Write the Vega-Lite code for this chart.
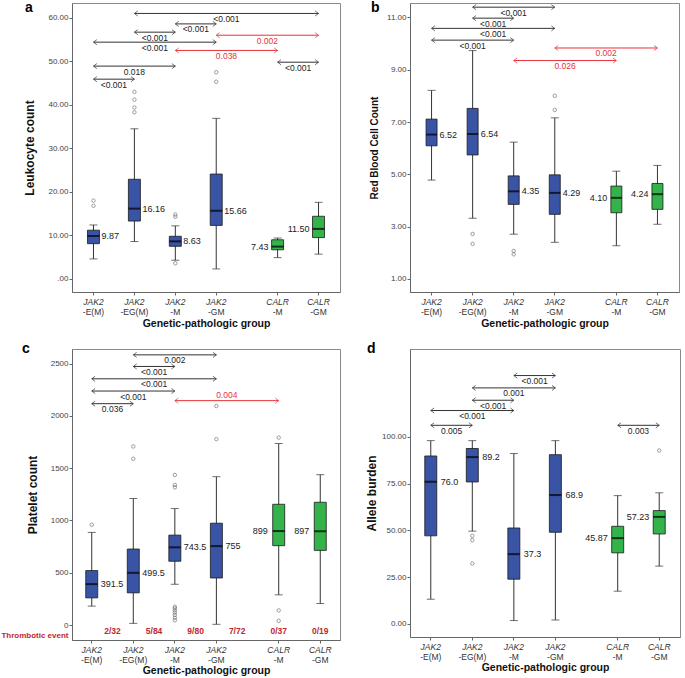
{
"$schema":"https://vega.github.io/schema/vega-lite/v6.json",
"padding":{"left":0,"top":0,"right":0,"bottom":0},
"background":"white",
"params":[{"name":"D","value":["JAK2-E(M)","s1","JAK2-EG(M)","s2","JAK2-M","s3","JAK2-GM","s4","s5","CALR-M","s6","CALR-GM"]}],
"config":{"font":"Liberation Sans","view":{"stroke":"#8a8a8a"},"axis":{"grid":false,"labelOverlap":false}},
"datasets":{
"boxA":[
{"g":"JAK2-E(M)","fam":"JAK2","lo":4.6,"q1":8.1,"med":9.87,"q3":11.2,"hi":12.4,"lab":"9.87"},
{"g":"JAK2-EG(M)","fam":"JAK2","lo":8.6,"q1":13.3,"med":16.16,"q3":22.9,"hi":34.5,"lab":"16.16"},
{"g":"JAK2-M","fam":"JAK2","lo":4.3,"q1":7.5,"med":8.63,"q3":9.8,"hi":12.2,"lab":"8.63"},
{"g":"JAK2-GM","fam":"JAK2","lo":2.3,"q1":12.3,"med":15.66,"q3":24.1,"hi":36.9,"lab":"15.66"},
{"g":"CALR-M","fam":"CALR","lo":4.9,"q1":6.7,"med":7.43,"q3":9.0,"hi":9.4,"lab":"7.43"},
{"g":"CALR-GM","fam":"CALR","lo":5.7,"q1":9.5,"med":11.5,"q3":14.4,"hi":17.6,"lab":"11.50"}],
"outA":[{"g":"JAK2-E(M)","v":18.0},{"g":"JAK2-E(M)","v":16.8},{"g":"JAK2-EG(M)","v":43.0},{"g":"JAK2-EG(M)","v":41.2},{"g":"JAK2-EG(M)","v":39.4},{"g":"JAK2-EG(M)","v":38.3},{"g":"JAK2-M","v":14.8},{"g":"JAK2-M","v":14.3},{"g":"JAK2-M","v":3.6},{"g":"JAK2-GM","v":47.5},{"g":"JAK2-GM","v":45.3}],
"arrA":[
{"from":"JAK2-EG(M)","to":"CALR-GM","y":61.0,"p":"<0.001"},
{"from":"JAK2-M","to":"JAK2-GM","y":58.6,"p":"<0.001"},
{"from":"JAK2-GM","to":"CALR-GM","y":56.0,"p":"0.002"},
{"from":"JAK2-EG(M)","to":"JAK2-M","y":56.7,"p":"<0.001"},
{"from":"JAK2-E(M)","to":"JAK2-GM","y":54.4,"p":"<0.001"},
{"from":"JAK2-M","to":"CALR-M","y":52.5,"p":"0.038"},
{"from":"JAK2-E(M)","to":"JAK2-M","y":48.9,"p":"0.018"},
{"from":"CALR-M","to":"CALR-GM","y":49.8,"p":"<0.001"},
{"from":"JAK2-E(M)","to":"JAK2-EG(M)","y":45.9,"p":"<0.001"}],
"boxB":[
{"g":"JAK2-E(M)","fam":"JAK2","lo":4.78,"q1":6.09,"med":6.52,"q3":7.11,"hi":8.21,"lab":"6.52"},
{"g":"JAK2-EG(M)","fam":"JAK2","lo":3.32,"q1":5.74,"med":6.54,"q3":7.52,"hi":9.73,"lab":"6.54"},
{"g":"JAK2-M","fam":"JAK2","lo":2.71,"q1":3.85,"med":4.35,"q3":4.94,"hi":6.23,"lab":"4.35"},
{"g":"JAK2-GM","fam":"JAK2","lo":2.4,"q1":3.47,"med":4.29,"q3":4.98,"hi":7.16,"lab":"4.29"},
{"g":"CALR-M","fam":"CALR","lo":2.27,"q1":3.53,"med":4.1,"q3":4.55,"hi":5.12,"lab":"4.10"},
{"g":"CALR-GM","fam":"CALR","lo":3.09,"q1":3.66,"med":4.24,"q3":4.65,"hi":5.34,"lab":"4.24"}],
"outB":[{"g":"JAK2-EG(M)","v":2.72},{"g":"JAK2-EG(M)","v":2.34},{"g":"JAK2-M","v":2.07},{"g":"JAK2-M","v":1.94},{"g":"JAK2-GM","v":8.0},{"g":"JAK2-GM","v":7.46}],
"arrB":[
{"from":"JAK2-EG(M)","to":"JAK2-GM","y":11.39,"p":"<0.001"},
{"from":"JAK2-EG(M)","to":"JAK2-M","y":10.97,"p":"<0.001"},
{"from":"JAK2-E(M)","to":"JAK2-GM","y":10.58,"p":"<0.001"},
{"from":"JAK2-E(M)","to":"JAK2-M","y":10.13,"p":"<0.001"},
{"from":"JAK2-GM","to":"CALR-GM","y":9.83,"p":"0.002"},
{"from":"JAK2-M","to":"CALR-M","y":9.35,"p":"0.026"}],
"boxC":[
{"g":"JAK2-E(M)","fam":"JAK2","lo":181,"q1":260,"med":391.5,"q3":521,"hi":886,"lab":"391.5","ev":"2/32"},
{"g":"JAK2-EG(M)","fam":"JAK2","lo":16,"q1":308,"med":499.5,"q3":727,"hi":1210,"lab":"499.5","ev":"5/84"},
{"g":"JAK2-M","fam":"JAK2","lo":390,"q1":610,"med":743.5,"q3":860,"hi":1114,"lab":"743.5","ev":"9/80"},
{"g":"JAK2-GM","fam":"JAK2","lo":7,"q1":450,"med":755,"q3":974,"hi":1419,"lab":"755","ev":"7/72"},
{"g":"CALR-M","fam":"CALR","lo":289,"q1":759,"med":899,"q3":1155,"hi":1736,"lab":"899","ev":"0/37"},
{"g":"CALR-GM","fam":"CALR","lo":206,"q1":714,"med":897,"q3":1174,"hi":1438,"lab":"897","ev":"0/19"}],
"outC":[{"g":"JAK2-E(M)","v":959},{"g":"JAK2-EG(M)","v":1708},{"g":"JAK2-EG(M)","v":1590},{"g":"JAK2-M","v":1435},{"g":"JAK2-M","v":1340},{"g":"JAK2-M","v":1317},{"g":"JAK2-M","v":175},{"g":"JAK2-M","v":160},{"g":"JAK2-M","v":140},{"g":"JAK2-M","v":120},{"g":"JAK2-M","v":95},{"g":"JAK2-M","v":70},{"g":"JAK2-M","v":45},{"g":"JAK2-GM","v":2095},{"g":"JAK2-GM","v":1778},{"g":"CALR-M","v":1793},{"g":"CALR-M","v":140},{"g":"CALR-M","v":41}],
"arrC":[
{"from":"JAK2-EG(M)","to":"JAK2-GM","y":2584,"p":"0.002"},
{"from":"JAK2-EG(M)","to":"JAK2-M","y":2473,"p":"<0.001"},
{"from":"JAK2-E(M)","to":"JAK2-GM","y":2355,"p":"<0.001"},
{"from":"JAK2-E(M)","to":"JAK2-M","y":2238,"p":"<0.001"},
{"from":"JAK2-M","to":"CALR-M","y":2146,"p":"0.004"},
{"from":"JAK2-E(M)","to":"JAK2-EG(M)","y":2117,"p":"0.036"}],
"boxD":[
{"g":"JAK2-E(M)","fam":"JAK2","lo":13.2,"q1":47.1,"med":76.0,"q3":89.8,"hi":98.0,"lab":"76.0"},
{"g":"JAK2-EG(M)","fam":"JAK2","lo":49.6,"q1":75.9,"med":89.2,"q3":93.8,"hi":98.0,"lab":"89.2"},
{"g":"JAK2-M","fam":"JAK2","lo":1.8,"q1":23.9,"med":37.3,"q3":51.3,"hi":91.1,"lab":"37.3"},
{"g":"JAK2-GM","fam":"JAK2","lo":2.1,"q1":49.0,"med":68.9,"q3":90.5,"hi":98.0,"lab":"68.9"},
{"g":"CALR-M","fam":"CALR","lo":17.5,"q1":38.0,"med":45.87,"q3":52.2,"hi":68.6,"lab":"45.87"},
{"g":"CALR-GM","fam":"CALR","lo":30.9,"q1":48.1,"med":57.23,"q3":60.6,"hi":70.1,"lab":"57.23"}],
"outD":[{"g":"JAK2-EG(M)","v":47.1},{"g":"JAK2-EG(M)","v":44.8},{"g":"JAK2-EG(M)","v":32.3},{"g":"CALR-GM","v":92.7}],
"arrD":[
{"from":"JAK2-M","to":"JAK2-GM","y":132.8,"p":"<0.001"},
{"from":"JAK2-EG(M)","to":"JAK2-GM","y":126.2,"p":"0.001"},
{"from":"JAK2-EG(M)","to":"JAK2-M","y":119.6,"p":"<0.001"},
{"from":"JAK2-E(M)","to":"JAK2-M","y":114.1,"p":"<0.001"},
{"from":"JAK2-E(M)","to":"JAK2-EG(M)","y":106.2,"p":"0.005"},
{"from":"CALR-M","to":"CALR-GM","y":106.2,"p":"0.003"}]
},
"columns":2,
"bounds":"flush",
"spacing":{"row":57,"column":70},
"concat":[
{"width":268,"height":289,
"title":{"text":"a","anchor":"start","frame":"group","offset":0,"dx":-47,"dy":23,"fontSize":14,"fontWeight":"bold","baseline":"alphabetic","color":"#000"},
"resolve":{"axis":{"x":"independent"}},
"layer":[
{"data":{"name":"boxA"},"mark":{"type":"rule","color":"#333"},"encoding":{
"x":{"field":"g","type":"nominal","scale":{"type":"band","domain":["JAK2-E(M)","s1","JAK2-EG(M)","s2","JAK2-M","s3","JAK2-GM","s4","s5","CALR-M","s6","CALR-GM"],"paddingInner":0,"paddingOuter":0.55},
"axis":{"orient":"bottom","values":["JAK2-E(M)","JAK2-EG(M)","JAK2-M","JAK2-GM","CALR-M","CALR-GM"],"labelExpr":"slice(datum.value,0,4)","labelAngle":0,"labelFontStyle":"italic","labelFontSize":8.5,"labelColor":"#333","tickSize":3,"tickColor":"#666","domainColor":"#666","labelPadding":2,"title":null}},
"y":{"field":"lo","type":"quantitative","scale":{"domain":[-3,63.4],"nice":false,"zero":false},
"axis":{"values":[0,10,20,30,40,50,60],"labelExpr":"datum.value==0 ? '.00' : format(datum.value,'.2f')","title":"Leukocyte count","titleFontSize":12,"titleFontWeight":"bold","titleColor":"#111","titleX":-43,"titleBaseline":"middle","labelFontSize":8,"labelColor":"#444","tickSize":3,"labelPadding":1,"domainColor":"#666","tickColor":"#666"}},
"y2":{"field":"hi"}}},
{"data":{"name":"boxA"},"mark":{"type":"tick","color":"#333","size":8,"thickness":1},"encoding":{
"x":{"field":"g","type":"nominal","axis":{"orient":"bottom","values":["JAK2-E(M)","JAK2-EG(M)","JAK2-M","JAK2-GM","CALR-M","CALR-GM"],"labelExpr":"slice(datum.value,4)","labelAngle":0,"labelFontSize":8.5,"labelColor":"#333","ticks":false,"domain":false,"labelPadding":15,"title":"Genetic-pathologic group","titleFontSize":10.5,"titleFontWeight":"bold","titleColor":"#111","titlePadding":3}},
"y":{"field":"lo","type":"quantitative"}}},
{"data":{"name":"boxA"},"mark":{"type":"tick","color":"#333","size":8,"thickness":1},"encoding":{"x":{"field":"g","type":"nominal","axis":null},"y":{"field":"hi","type":"quantitative"}}},
{"data":{"name":"boxA"},"mark":{"type":"bar","size":12,"stroke":"#1a1a1a","strokeWidth":0.8},"encoding":{"x":{"field":"g","type":"nominal","axis":null},"y":{"field":"q1","type":"quantitative"},"y2":{"field":"q3"},"color":{"field":"fam","type":"nominal","scale":{"domain":["JAK2","CALR"],"range":["#3a54a5","#34b34a"]},"legend":null}}},
{"data":{"name":"boxA"},"mark":{"type":"tick","color":"#000","size":12,"thickness":2},"encoding":{"x":{"field":"g","type":"nominal","axis":null},"y":{"field":"med","type":"quantitative"}}},
{"data":{"name":"boxA"},"transform":[{"filter":"datum.fam=='JAK2'"}],"mark":{"type":"text","align":"left","dx":8,"fontSize":9,"color":"#222","baseline":"middle"},"encoding":{"x":{"field":"g","type":"nominal","axis":null},"y":{"field":"med","type":"quantitative"},"text":{"field":"lab"}}},
{"data":{"name":"boxA"},"transform":[{"filter":"datum.fam=='CALR'"}],"mark":{"type":"text","align":"right","dx":-9,"fontSize":9,"color":"#222","baseline":"middle"},"encoding":{"x":{"field":"g","type":"nominal","axis":null},"y":{"field":"med","type":"quantitative"},"text":{"field":"lab"}}},
{"data":{"name":"outA"},"mark":{"type":"point","filled":false,"size":12,"color":"#555","strokeWidth":0.8},"encoding":{"x":{"field":"g","type":"nominal","axis":null},"y":{"field":"v","type":"quantitative"}}},
{"data":{"name":"arrA"},"mark":{"type":"rule","strokeWidth":1},"encoding":{"x":{"field":"from","type":"nominal","axis":null},"x2":{"field":"to"},"y":{"field":"y","type":"quantitative"},"color":{"condition":{"test":"indexof(datum.from,'JAK2')==0 && indexof(datum.to,'CALR')==0 && slice(datum.from,4)==slice(datum.to,4)","value":"#e8323a"},"value":"#333"}}},
{"data":{"name":"arrA"},"mark":{"type":"point","shape":"M 1.6 -1.2 L 0 0 L 1.6 1.2","filled":false,"size":18,"strokeWidth":1},"encoding":{"x":{"field":"from","type":"nominal","axis":null},"y":{"field":"y","type":"quantitative"},"color":{"condition":{"test":"indexof(datum.from,'JAK2')==0 && indexof(datum.to,'CALR')==0 && slice(datum.from,4)==slice(datum.to,4)","value":"#e8323a"},"value":"#333"}}},
{"data":{"name":"arrA"},"mark":{"type":"point","shape":"M -1.6 -1.2 L 0 0 L -1.6 1.2","filled":false,"size":18,"strokeWidth":1},"encoding":{"x":{"field":"to","type":"nominal","axis":null},"y":{"field":"y","type":"quantitative"},"color":{"condition":{"test":"indexof(datum.from,'JAK2')==0 && indexof(datum.to,'CALR')==0 && slice(datum.from,4)==slice(datum.to,4)","value":"#e8323a"},"value":"#333"}}},
{"data":{"name":"arrA"},"transform":[{"filter":"indexof(D,datum.to)-indexof(D,datum.from)==2"}],"mark":{"type":"text","fontSize":8.5,"baseline":"middle","dy":5.5},"encoding":{"x":{"field":"from","type":"nominal","bandPosition":1.5,"axis":null},"y":{"field":"y","type":"quantitative"},"text":{"field":"p"},"color":{"value":"#222"}}},
{"data":{"name":"arrA"},"transform":[{"filter":"indexof(D,datum.to)-indexof(D,datum.from)==4"}],"mark":{"type":"text","fontSize":8.5,"baseline":"middle","dy":5.5},"encoding":{"x":{"field":"from","type":"nominal","bandPosition":2.5,"axis":null},"y":{"field":"y","type":"quantitative"},"text":{"field":"p"},"color":{"value":"#222"}}},
{"data":{"name":"arrA"},"transform":[{"filter":"indexof(D,datum.to)-indexof(D,datum.from)==5"}],"mark":{"type":"text","fontSize":8.5,"baseline":"middle","dy":5.5},"encoding":{"x":{"field":"from","type":"nominal","bandPosition":3,"axis":null},"y":{"field":"y","type":"quantitative"},"text":{"field":"p"},"color":{"value":"#e8323a"}}},
{"data":{"name":"arrA"},"transform":[{"filter":"indexof(D,datum.to)-indexof(D,datum.from)==6"}],"mark":{"type":"text","fontSize":8.5,"baseline":"middle","dy":5.5},"encoding":{"x":{"field":"from","type":"nominal","bandPosition":3.5,"axis":null},"y":{"field":"y","type":"quantitative"},"text":{"field":"p"},"color":{"value":"#222"}}},
{"data":{"name":"arrA"},"transform":[{"filter":"indexof(D,datum.to)-indexof(D,datum.from)==9"}],"mark":{"type":"text","fontSize":8.5,"baseline":"middle","dy":5.5},"encoding":{"x":{"field":"from","type":"nominal","bandPosition":5,"axis":null},"y":{"field":"y","type":"quantitative"},"text":{"field":"p"},"color":{"value":"#222"}}}
]},
{"width":269,"height":289,
"title":{"text":"b","anchor":"start","frame":"group","offset":0,"dx":-39,"dy":23,"fontSize":14,"fontWeight":"bold","baseline":"alphabetic","color":"#000"},
"resolve":{"axis":{"x":"independent"}},
"layer":[
{"data":{"name":"boxB"},"mark":{"type":"rule","color":"#333"},"encoding":{
"x":{"field":"g","type":"nominal","scale":{"type":"band","domain":["JAK2-E(M)","s1","JAK2-EG(M)","s2","JAK2-M","s3","JAK2-GM","s4","s5","CALR-M","s6","CALR-GM"],"paddingInner":0,"paddingOuter":0.55},
"axis":{"orient":"bottom","values":["JAK2-E(M)","JAK2-EG(M)","JAK2-M","JAK2-GM","CALR-M","CALR-GM"],"labelExpr":"slice(datum.value,0,4)","labelAngle":0,"labelFontStyle":"italic","labelFontSize":8.5,"labelColor":"#333","tickSize":3,"tickColor":"#666","domainColor":"#666","labelPadding":2,"title":null}},
"y":{"field":"lo","type":"quantitative","scale":{"domain":[0.5,11.55],"nice":false,"zero":false},
"axis":{"values":[1,3,5,7,9,11],"format":".2f","title":"Red Blood Cell Count","titleFontSize":10,"titleFontWeight":"bold","titleColor":"#111","titleX":-36,"titleBaseline":"middle","labelFontSize":8,"labelColor":"#444","tickSize":3,"labelPadding":1,"domainColor":"#666","tickColor":"#666"}},
"y2":{"field":"hi"}}},
{"data":{"name":"boxB"},"mark":{"type":"tick","color":"#333","size":8,"thickness":1},"encoding":{
"x":{"field":"g","type":"nominal","axis":{"orient":"bottom","values":["JAK2-E(M)","JAK2-EG(M)","JAK2-M","JAK2-GM","CALR-M","CALR-GM"],"labelExpr":"slice(datum.value,4)","labelAngle":0,"labelFontSize":8.5,"labelColor":"#333","ticks":false,"domain":false,"labelPadding":15,"title":"Genetic-pathologic group","titleFontSize":10.5,"titleFontWeight":"bold","titleColor":"#111","titlePadding":3}},
"y":{"field":"lo","type":"quantitative"}}},
{"data":{"name":"boxB"},"mark":{"type":"tick","color":"#333","size":8,"thickness":1},"encoding":{"x":{"field":"g","type":"nominal","axis":null},"y":{"field":"hi","type":"quantitative"}}},
{"data":{"name":"boxB"},"mark":{"type":"bar","size":11,"stroke":"#1a1a1a","strokeWidth":0.8},"encoding":{"x":{"field":"g","type":"nominal","axis":null},"y":{"field":"q1","type":"quantitative"},"y2":{"field":"q3"},"color":{"field":"fam","type":"nominal","scale":{"domain":["JAK2","CALR"],"range":["#3a54a5","#34b34a"]},"legend":null}}},
{"data":{"name":"boxB"},"mark":{"type":"tick","color":"#000","size":11,"thickness":2},"encoding":{"x":{"field":"g","type":"nominal","axis":null},"y":{"field":"med","type":"quantitative"}}},
{"data":{"name":"boxB"},"transform":[{"filter":"datum.fam=='JAK2'"}],"mark":{"type":"text","align":"left","dx":8,"fontSize":9,"color":"#222","baseline":"middle"},"encoding":{"x":{"field":"g","type":"nominal","axis":null},"y":{"field":"med","type":"quantitative"},"text":{"field":"lab"}}},
{"data":{"name":"boxB"},"transform":[{"filter":"datum.fam=='CALR'"}],"mark":{"type":"text","align":"right","dx":-9,"fontSize":9,"color":"#222","baseline":"middle"},"encoding":{"x":{"field":"g","type":"nominal","axis":null},"y":{"field":"med","type":"quantitative"},"text":{"field":"lab"}}},
{"data":{"name":"outB"},"mark":{"type":"point","filled":false,"size":12,"color":"#555","strokeWidth":0.8},"encoding":{"x":{"field":"g","type":"nominal","axis":null},"y":{"field":"v","type":"quantitative"}}},
{"data":{"name":"arrB"},"mark":{"type":"rule","strokeWidth":1},"encoding":{"x":{"field":"from","type":"nominal","axis":null},"x2":{"field":"to"},"y":{"field":"y","type":"quantitative"},"color":{"condition":{"test":"indexof(datum.from,'JAK2')==0 && indexof(datum.to,'CALR')==0 && slice(datum.from,4)==slice(datum.to,4)","value":"#e8323a"},"value":"#333"}}},
{"data":{"name":"arrB"},"mark":{"type":"point","shape":"M 1.6 -1.2 L 0 0 L 1.6 1.2","filled":false,"size":18,"strokeWidth":1},"encoding":{"x":{"field":"from","type":"nominal","axis":null},"y":{"field":"y","type":"quantitative"},"color":{"condition":{"test":"indexof(datum.from,'JAK2')==0 && indexof(datum.to,'CALR')==0 && slice(datum.from,4)==slice(datum.to,4)","value":"#e8323a"},"value":"#333"}}},
{"data":{"name":"arrB"},"mark":{"type":"point","shape":"M -1.6 -1.2 L 0 0 L -1.6 1.2","filled":false,"size":18,"strokeWidth":1},"encoding":{"x":{"field":"to","type":"nominal","axis":null},"y":{"field":"y","type":"quantitative"},"color":{"condition":{"test":"indexof(datum.from,'JAK2')==0 && indexof(datum.to,'CALR')==0 && slice(datum.from,4)==slice(datum.to,4)","value":"#e8323a"},"value":"#333"}}},
{"data":{"name":"arrB"},"transform":[{"filter":"indexof(D,datum.to)-indexof(D,datum.from)==2"}],"mark":{"type":"text","fontSize":8.5,"baseline":"middle","dy":5.5},"encoding":{"x":{"field":"from","type":"nominal","bandPosition":1.5,"axis":null},"y":{"field":"y","type":"quantitative"},"text":{"field":"p"},"color":{"value":"#222"}}},
{"data":{"name":"arrB"},"transform":[{"filter":"indexof(D,datum.to)-indexof(D,datum.from)==4"}],"mark":{"type":"text","fontSize":8.5,"baseline":"middle","dy":5.5},"encoding":{"x":{"field":"from","type":"nominal","bandPosition":2.5,"axis":null},"y":{"field":"y","type":"quantitative"},"text":{"field":"p"},"color":{"value":"#222"}}},
{"data":{"name":"arrB"},"transform":[{"filter":"indexof(D,datum.to)-indexof(D,datum.from)==5"}],"mark":{"type":"text","fontSize":8.5,"baseline":"middle","dy":5.5},"encoding":{"x":{"field":"from","type":"nominal","bandPosition":3,"axis":null},"y":{"field":"y","type":"quantitative"},"text":{"field":"p"},"color":{"value":"#e8323a"}}},
{"data":{"name":"arrB"},"transform":[{"filter":"indexof(D,datum.to)-indexof(D,datum.from)==6"}],"mark":{"type":"text","fontSize":8.5,"baseline":"middle","dy":5.5},"encoding":{"x":{"field":"from","type":"nominal","bandPosition":3.5,"axis":null},"y":{"field":"y","type":"quantitative"},"text":{"field":"p"},"color":{"value":"#222"}}}
]},
{"width":268,"height":291,
"title":{"text":"c","anchor":"start","frame":"group","offset":0,"dx":-50,"dy":18,"fontSize":14,"fontWeight":"bold","baseline":"alphabetic","color":"#000"},
"resolve":{"axis":{"x":"independent"}},
"layer":[
{"data":{"name":"boxC"},"mark":{"type":"rule","color":"#333"},"encoding":{
"x":{"field":"g","type":"nominal","scale":{"type":"band","domain":["JAK2-E(M)","s1","JAK2-EG(M)","s2","JAK2-M","s3","JAK2-GM","s4","s5","CALR-M","s6","CALR-GM"],"paddingInner":0,"paddingOuter":0.45},
"axis":{"orient":"bottom","values":["JAK2-E(M)","JAK2-EG(M)","JAK2-M","JAK2-GM","CALR-M","CALR-GM"],"labelExpr":"slice(datum.value,0,4)","labelAngle":0,"labelFontStyle":"italic","labelFontSize":8.5,"labelColor":"#333","tickSize":3,"tickColor":"#666","domainColor":"#666","labelPadding":2,"title":null}},
"y":{"field":"lo","type":"quantitative","scale":{"domain":[-143,2640],"nice":false,"zero":false},
"axis":{"values":[0,500,1000,1500,2000,2500,-100],"labelExpr":"datum.value < 0 ? 'Thrombotic event' : format(datum.value,'d')","title":"Platelet count","titleFontSize":12,"titleFontWeight":"bold","titleColor":"#111","titleX":-40,"titleBaseline":"middle","labelFontSize":8,"labelFontWeight":{"condition":{"test":"datum.value < 0","value":"bold"},"value":"normal"},"labelColor":{"condition":{"test":"datum.value < 0","value":"#c1272d"},"value":"#444"},"tickOpacity":{"condition":{"test":"datum.value < 0","value":0},"value":1},"tickSize":3,"labelPadding":1,"domainColor":"#666","tickColor":"#666"}},
"y2":{"field":"hi"}}},
{"data":{"name":"boxC"},"mark":{"type":"tick","color":"#333","size":8,"thickness":1},"encoding":{
"x":{"field":"g","type":"nominal","axis":{"orient":"bottom","values":["JAK2-E(M)","JAK2-EG(M)","JAK2-M","JAK2-GM","CALR-M","CALR-GM"],"labelExpr":"slice(datum.value,4)","labelAngle":0,"labelFontSize":8.5,"labelColor":"#333","ticks":false,"domain":false,"labelPadding":15,"title":"Genetic-pathologic group","titleFontSize":10.5,"titleFontWeight":"bold","titleColor":"#111","titlePadding":2}},
"y":{"field":"lo","type":"quantitative"}}},
{"data":{"name":"boxC"},"mark":{"type":"tick","color":"#333","size":8,"thickness":1},"encoding":{"x":{"field":"g","type":"nominal","axis":null},"y":{"field":"hi","type":"quantitative"}}},
{"data":{"name":"boxC"},"mark":{"type":"bar","size":12,"stroke":"#1a1a1a","strokeWidth":0.8},"encoding":{"x":{"field":"g","type":"nominal","axis":null},"y":{"field":"q1","type":"quantitative"},"y2":{"field":"q3"},"color":{"field":"fam","type":"nominal","scale":{"domain":["JAK2","CALR"],"range":["#3a54a5","#34b34a"]},"legend":null}}},
{"data":{"name":"boxC"},"mark":{"type":"tick","color":"#000","size":12,"thickness":2},"encoding":{"x":{"field":"g","type":"nominal","axis":null},"y":{"field":"med","type":"quantitative"}}},
{"data":{"name":"boxC"},"transform":[{"filter":"datum.fam=='JAK2'"}],"mark":{"type":"text","align":"left","dx":9,"fontSize":9,"color":"#222","baseline":"middle"},"encoding":{"x":{"field":"g","type":"nominal","axis":null},"y":{"field":"med","type":"quantitative"},"text":{"field":"lab"}}},
{"data":{"name":"boxC"},"transform":[{"filter":"datum.fam=='CALR'"}],"mark":{"type":"text","align":"right","dx":-11,"fontSize":9,"color":"#222","baseline":"middle"},"encoding":{"x":{"field":"g","type":"nominal","axis":null},"y":{"field":"med","type":"quantitative"},"text":{"field":"lab"}}},
{"data":{"name":"boxC"},"transform":[{"filter":"datum.fam=='JAK2'"}],"mark":{"type":"text","fontSize":8.5,"fontWeight":"bold","color":"#c1272d","baseline":"middle"},"encoding":{"x":{"field":"g","type":"nominal","bandPosition":1.5,"axis":null},"y":{"datum":-57,"type":"quantitative"},"text":{"field":"ev"}}},
{"data":{"name":"boxC"},"transform":[{"filter":"datum.fam=='CALR'"}],"mark":{"type":"text","fontSize":8.5,"fontWeight":"bold","color":"#c1272d","baseline":"middle"},"encoding":{"x":{"field":"g","type":"nominal","axis":null},"y":{"datum":-57,"type":"quantitative"},"text":{"field":"ev"}}},
{"data":{"name":"outC"},"mark":{"type":"point","filled":false,"size":12,"color":"#555","strokeWidth":0.8},"encoding":{"x":{"field":"g","type":"nominal","axis":null},"y":{"field":"v","type":"quantitative"}}},
{"data":{"name":"arrC"},"mark":{"type":"rule","strokeWidth":1},"encoding":{"x":{"field":"from","type":"nominal","axis":null},"x2":{"field":"to"},"y":{"field":"y","type":"quantitative"},"color":{"condition":{"test":"indexof(datum.from,'JAK2')==0 && indexof(datum.to,'CALR')==0 && slice(datum.from,4)==slice(datum.to,4)","value":"#e8323a"},"value":"#333"}}},
{"data":{"name":"arrC"},"mark":{"type":"point","shape":"M 1.6 -1.2 L 0 0 L 1.6 1.2","filled":false,"size":18,"strokeWidth":1},"encoding":{"x":{"field":"from","type":"nominal","axis":null},"y":{"field":"y","type":"quantitative"},"color":{"condition":{"test":"indexof(datum.from,'JAK2')==0 && indexof(datum.to,'CALR')==0 && slice(datum.from,4)==slice(datum.to,4)","value":"#e8323a"},"value":"#333"}}},
{"data":{"name":"arrC"},"mark":{"type":"point","shape":"M -1.6 -1.2 L 0 0 L -1.6 1.2","filled":false,"size":18,"strokeWidth":1},"encoding":{"x":{"field":"to","type":"nominal","axis":null},"y":{"field":"y","type":"quantitative"},"color":{"condition":{"test":"indexof(datum.from,'JAK2')==0 && indexof(datum.to,'CALR')==0 && slice(datum.from,4)==slice(datum.to,4)","value":"#e8323a"},"value":"#333"}}},
{"data":{"name":"arrC"},"transform":[{"filter":"indexof(D,datum.to)-indexof(D,datum.from)==2"}],"mark":{"type":"text","fontSize":8.5,"baseline":"middle","dy":5.5},"encoding":{"x":{"field":"from","type":"nominal","bandPosition":1.5,"axis":null},"y":{"field":"y","type":"quantitative"},"text":{"field":"p"},"color":{"value":"#222"}}},
{"data":{"name":"arrC"},"transform":[{"filter":"indexof(D,datum.to)-indexof(D,datum.from)==4"}],"mark":{"type":"text","fontSize":8.5,"baseline":"middle","dy":5.5},"encoding":{"x":{"field":"from","type":"nominal","bandPosition":2.5,"axis":null},"y":{"field":"y","type":"quantitative"},"text":{"field":"p"},"color":{"value":"#222"}}},
{"data":{"name":"arrC"},"transform":[{"filter":"indexof(D,datum.to)-indexof(D,datum.from)==5"}],"mark":{"type":"text","fontSize":8.5,"baseline":"middle","dy":-5.5},"encoding":{"x":{"field":"from","type":"nominal","bandPosition":3,"axis":null},"y":{"field":"y","type":"quantitative"},"text":{"field":"p"},"color":{"value":"#e8323a"}}},
{"data":{"name":"arrC"},"transform":[{"filter":"indexof(D,datum.to)-indexof(D,datum.from)==6"}],"mark":{"type":"text","fontSize":8.5,"baseline":"middle","dy":5.5},"encoding":{"x":{"field":"from","type":"nominal","bandPosition":3.5,"axis":null},"y":{"field":"y","type":"quantitative"},"text":{"field":"p"},"color":{"value":"#222"}}}
]},
{"width":270,"height":288,
"title":{"text":"d","anchor":"start","frame":"group","offset":0,"dx":-43,"dy":18,"fontSize":14,"fontWeight":"bold","baseline":"alphabetic","color":"#000"},
"resolve":{"axis":{"x":"independent"}},
"layer":[
{"data":{"name":"boxD"},"mark":{"type":"rule","color":"#333"},"encoding":{
"x":{"field":"g","type":"nominal","scale":{"type":"band","domain":["JAK2-E(M)","s1","JAK2-EG(M)","s2","JAK2-M","s3","JAK2-GM","s4","s5","CALR-M","s6","CALR-GM"],"paddingInner":0,"paddingOuter":0.5},
"axis":{"orient":"bottom","values":["JAK2-E(M)","JAK2-EG(M)","JAK2-M","JAK2-GM","CALR-M","CALR-GM"],"labelExpr":"slice(datum.value,0,4)","labelAngle":0,"labelFontStyle":"italic","labelFontSize":8.5,"labelColor":"#333","tickSize":3,"tickColor":"#666","domainColor":"#666","labelPadding":2,"title":null}},
"y":{"field":"lo","type":"quantitative","scale":{"domain":[-7,147],"nice":false,"zero":false},
"axis":{"values":[0,25,50,75,100],"format":".2f","title":"Allele burden","titleFontSize":12,"titleFontWeight":"bold","titleColor":"#111","titleX":-39,"titleBaseline":"middle","labelFontSize":8,"labelColor":"#444","tickSize":3,"labelPadding":1,"domainColor":"#666","tickColor":"#666"}},
"y2":{"field":"hi"}}},
{"data":{"name":"boxD"},"mark":{"type":"tick","color":"#333","size":8,"thickness":1},"encoding":{
"x":{"field":"g","type":"nominal","axis":{"orient":"bottom","values":["JAK2-E(M)","JAK2-EG(M)","JAK2-M","JAK2-GM","CALR-M","CALR-GM"],"labelExpr":"slice(datum.value,4)","labelAngle":0,"labelFontSize":8.5,"labelColor":"#333","ticks":false,"domain":false,"labelPadding":15,"title":"Genetic-pathologic group","titleFontSize":10.5,"titleFontWeight":"bold","titleColor":"#111","titlePadding":2}},
"y":{"field":"lo","type":"quantitative"}}},
{"data":{"name":"boxD"},"mark":{"type":"tick","color":"#333","size":8,"thickness":1},"encoding":{"x":{"field":"g","type":"nominal","axis":null},"y":{"field":"hi","type":"quantitative"}}},
{"data":{"name":"boxD"},"mark":{"type":"bar","size":12,"stroke":"#1a1a1a","strokeWidth":0.8},"encoding":{"x":{"field":"g","type":"nominal","axis":null},"y":{"field":"q1","type":"quantitative"},"y2":{"field":"q3"},"color":{"field":"fam","type":"nominal","scale":{"domain":["JAK2","CALR"],"range":["#3a54a5","#34b34a"]},"legend":null}}},
{"data":{"name":"boxD"},"mark":{"type":"tick","color":"#000","size":12,"thickness":2},"encoding":{"x":{"field":"g","type":"nominal","axis":null},"y":{"field":"med","type":"quantitative"}}},
{"data":{"name":"boxD"},"transform":[{"filter":"datum.fam=='JAK2'"}],"mark":{"type":"text","align":"left","dx":10,"fontSize":9,"color":"#222","baseline":"middle"},"encoding":{"x":{"field":"g","type":"nominal","axis":null},"y":{"field":"med","type":"quantitative"},"text":{"field":"lab"}}},
{"data":{"name":"boxD"},"transform":[{"filter":"datum.fam=='CALR'"}],"mark":{"type":"text","align":"right","dx":-10,"fontSize":9,"color":"#222","baseline":"middle"},"encoding":{"x":{"field":"g","type":"nominal","axis":null},"y":{"field":"med","type":"quantitative"},"text":{"field":"lab"}}},
{"data":{"name":"outD"},"mark":{"type":"point","filled":false,"size":12,"color":"#555","strokeWidth":0.8},"encoding":{"x":{"field":"g","type":"nominal","axis":null},"y":{"field":"v","type":"quantitative"}}},
{"data":{"name":"arrD"},"mark":{"type":"rule","strokeWidth":1},"encoding":{"x":{"field":"from","type":"nominal","axis":null},"x2":{"field":"to"},"y":{"field":"y","type":"quantitative"},"color":{"value":"#333"}}},
{"data":{"name":"arrD"},"mark":{"type":"point","shape":"M 1.6 -1.2 L 0 0 L 1.6 1.2","filled":false,"size":18,"strokeWidth":1},"encoding":{"x":{"field":"from","type":"nominal","axis":null},"y":{"field":"y","type":"quantitative"},"color":{"value":"#333"}}},
{"data":{"name":"arrD"},"mark":{"type":"point","shape":"M -1.6 -1.2 L 0 0 L -1.6 1.2","filled":false,"size":18,"strokeWidth":1},"encoding":{"x":{"field":"to","type":"nominal","axis":null},"y":{"field":"y","type":"quantitative"},"color":{"value":"#333"}}},
{"data":{"name":"arrD"},"transform":[{"filter":"indexof(D,datum.to)-indexof(D,datum.from)==2"}],"mark":{"type":"text","fontSize":8.5,"baseline":"middle","dy":5.5},"encoding":{"x":{"field":"from","type":"nominal","bandPosition":1.5,"axis":null},"y":{"field":"y","type":"quantitative"},"text":{"field":"p"},"color":{"value":"#222"}}},
{"data":{"name":"arrD"},"transform":[{"filter":"indexof(D,datum.to)-indexof(D,datum.from)==4"}],"mark":{"type":"text","fontSize":8.5,"baseline":"middle","dy":5.5},"encoding":{"x":{"field":"from","type":"nominal","bandPosition":2.5,"axis":null},"y":{"field":"y","type":"quantitative"},"text":{"field":"p"},"color":{"value":"#222"}}}
]}
]
}
